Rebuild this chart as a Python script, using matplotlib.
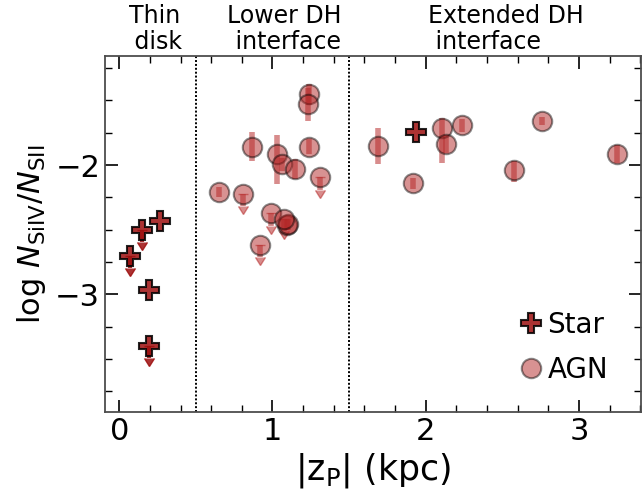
import numpy as np
import matplotlib.pyplot as plt
from matplotlib.ticker import MultipleLocator

# stellar sight lines (thin disk + one extended)
star_z = [0.267, 0.197, 1.937]
star_r = [-2.433, -2.966, -1.741]
star_lim_z = [0.148, 0.067, 0.197]
star_lim_r = [-2.50, -2.70, -3.40]

# AGN sight lines with measurements
agn_z = [1.237, 1.232, 0.869, 1.028, 1.059, 1.150, 1.239, 0.649, 1.095, 1.100,
         1.687, 1.919, 2.106, 2.132, 2.238, 2.578, 2.757, 3.247]
agn_r = [-1.453, -1.531, -1.858, -1.915, -1.995, -2.031, -1.858, -2.207, -2.464, -2.460,
         -1.852, -2.142, -1.715, -1.839, -1.692, -2.039, -1.660, -1.915]
agn_err_lo = [0.08, 0.13, 0.11, 0.23, 0.05, 0.08, 0.06, 0.04, 0.04, 0.04,
              0.14, 0.04, 0.27, 0.07, 0.05, 0.09, 0.03, 0.07]
agn_err_hi = [0.08, 0.13, 0.11, 0.15, 0.05, 0.08, 0.06, 0.04, 0.04, 0.04,
              0.14, 0.04, 0.08, 0.07, 0.05, 0.07, 0.03, 0.07]

# AGN upper limits
agn_lim_z = [1.308, 0.809, 0.987, 1.076, 0.917]
agn_lim_r = [-2.095, -2.224, -2.374, -2.418, -2.619]

lim_len = 0.095
star_col = (0.62, 0.06, 0.06, 0.85)
agn_face = (0.70, 0.15, 0.15, 0.5)
agn_edge = (0.0, 0.0, 0.0, 0.45)
bar_col = (0.72, 0.18, 0.18, 0.55)


def limit_arrows(ax, x, y, col, lw, z):
    eb = ax.errorbar(x, y, yerr=lim_len, uplims=True, fmt='none',
                     ecolor=col, elinewidth=lw, capsize=3.8, zorder=z)
    for cap in eb[1]:
        cap.set_color(col)
        cap.set_markerfacecolor(col)
        cap.set_markeredgecolor(col)


fig = plt.figure(figsize=(6.42, 4.94), dpi=100)
ax = fig.add_axes([0.1636, 0.1666, 0.8348, 0.72])

ax.axvline(0.5, color='k', ls=(0, (1, 1)), lw=1.4, zorder=1)
ax.axvline(1.5, color='k', ls=(0, (1, 1)), lw=1.4, zorder=1)

ax.errorbar(agn_z, agn_r, yerr=[agn_err_lo, agn_err_hi], fmt='none',
            ecolor=bar_col, elinewidth=4, capsize=0, zorder=2)
limit_arrows(ax, agn_lim_z, agn_lim_r, bar_col, 4, 2)
ax.plot(agn_z + agn_lim_z, agn_r + agn_lim_r, 'o', ms=14, mfc=agn_face,
        mec=agn_edge, mew=1.5, ls='none', zorder=3, label='AGN')

limit_arrows(ax, star_lim_z, star_lim_r, star_col, 3, 4)
ax.plot(star_z + star_lim_z, star_r + star_lim_r, 'P', ms=14, mfc=star_col,
        mec='k', mew=1.5, alpha=0.85, ls='none', zorder=5, label='Star')

ax.set_xlim(-0.093, 3.405)
ax.set_ylim(-3.908, -1.157)
ax.xaxis.set_major_locator(MultipleLocator(1))
ax.xaxis.set_minor_locator(MultipleLocator(0.2))
ax.yaxis.set_major_locator(MultipleLocator(1))
ax.yaxis.set_minor_locator(MultipleLocator(0.25))
ax.tick_params(which='both', direction='in', top=True, right=True, labelsize=22)
ax.tick_params(which='major', length=9, width=1.2)
ax.tick_params(which='minor', length=5, width=1.0)
for s in ax.spines.values():
    s.set_color('0.3')
    s.set_linewidth(1.3)

ax.set_xlabel(r'|z$_{\rm P}$| (kpc)', fontsize=25)
ax.set_ylabel(r'log $N_{\rm SiIV}/N_{\rm SII}$', fontsize=22, labelpad=5)

# region names above the frame
trans = ax.get_xaxis_transform()
kw = dict(transform=trans, va='baseline', fontsize=17, linespacing=1.12)
ax.text(0.233, 1.0197, 'Thin\n disk', ha='center', multialignment='center', **kw)
ax.text(1.077, 1.0197, 'Lower DH\n interface', ha='center',
        multialignment='center', **kw)
ax.text(2.012, 1.0197, 'Extended DH\n interface', ha='left',
        multialignment='left', **kw)

h, l = ax.get_legend_handles_labels()
ax.legend(h[::-1], l[::-1], loc='lower right', bbox_to_anchor=(0.985, 0.008),
          frameon=False, fontsize=20, handlelength=0.8, handletextpad=0.2,
          labelspacing=0.62)

fig.savefig('out.png', dpi=100)
